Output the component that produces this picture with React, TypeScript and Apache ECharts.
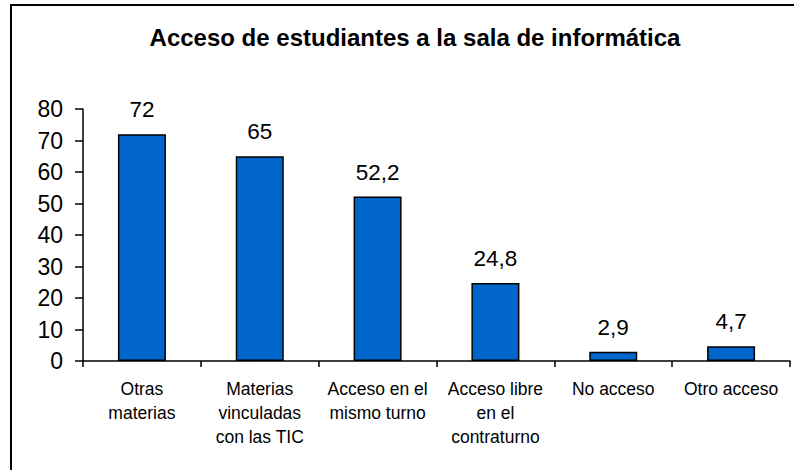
import React, { useEffect, useRef } from "react";
import * as echarts from "echarts";

const categories = [
  "Otras\nmaterias",
  "Materias\nvinculadas\ncon las TIC",
  "Acceso en el\nmismo turno",
  "Acceso libre\nen el\ncontraturno",
  "No acceso",
  "Otro acceso",
];
const values = [72, 65, 52.2, 24.8, 2.9, 4.7];
const title = "Acceso de estudiantes a la sala de informática";

const FONT = "Liberation Sans, Arial, sans-serif";

export default function App() {
  const ref = useRef<HTMLDivElement>(null);
  useEffect(() => {
    if (!ref.current) return;
    const chart = echarts.init(ref.current, null, { renderer: "svg" });
    chart.setOption({
      animation: false,
      backgroundColor: "#ffffff",
      textStyle: { fontFamily: FONT },
      title: {
        text: title,
        left: 410,
        textAlign: "center",
        top: 20,
        textStyle: { fontFamily: FONT, fontSize: 24, fontWeight: "bold", color: "#000" },
      },
      graphic: [
        {
          type: "rect",
          shape: { x: 11, y: 5, width: 820, height: 520 },
          style: { fill: "none", stroke: "#000", lineWidth: 2 },
          silent: true,
        },
      ],
      grid: { left: 83, right: 4, top: 109, bottom: 109, containLabel: false },
      xAxis: {
        type: "category",
        data: categories,
        axisLine: { lineStyle: { color: "#000", width: 1.5 } },
        axisTick: { show: true, length: 6, lineStyle: { color: "#000", width: 1.5 } },
        axisLabel: {
          interval: 0,
          margin: 16,
          fontSize: 17.5,
          lineHeight: 24,
          color: "#000",
          fontFamily: FONT,
        },
      },
      yAxis: {
        type: "value",
        min: 0,
        max: 80,
        interval: 10,
        splitLine: { show: false },
        axisLine: { show: true, lineStyle: { color: "#000", width: 1.5 } },
        axisTick: { show: true, length: 8, lineStyle: { color: "#000", width: 1.5 } },
        axisLabel: { margin: 20, fontSize: 23, color: "#000", fontFamily: FONT },
      },
      series: [
        {
          type: "bar",
          data: values,
          barWidth: 48,
          itemStyle: { color: "#0066CC", borderColor: "#000", borderWidth: 1.5 },
          label: {
            show: true,
            position: "top",
            distance: 13,
            fontSize: 22.5,
            color: "#000",
            fontFamily: FONT,
            formatter: (p: any) => String(p.value).replace(".", ","),
          },
        },
      ],
    });
    return () => chart.dispose();
  }, []);
  return (
    <div
      ref={ref}
      style={{ position: "fixed", left: 0, top: 0, width: 794, height: 470 }}
    />
  );
}
